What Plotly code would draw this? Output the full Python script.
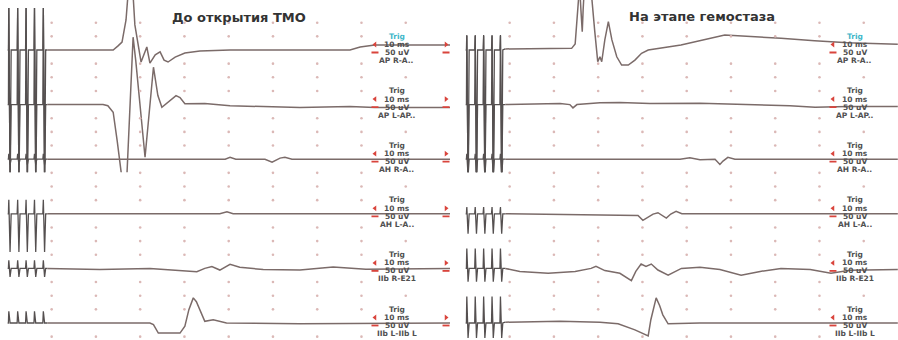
import plotly.graph_objects as go

# ---------------- data (ms, µV) ----------------
panel_titles = ["До открытия ТМО", "На этапе гемостаза"]
channel_names = ["AP R-A..", "AP L-AP..", "AH R-A..", "AH L-A..", "IIb R-E21", "IIb L-IIb L"]
trig_label = "Trig"
sweep_label = "10 ms"
gain_label = "50 uV"

# stimulation train (pulse times, ms) and artefact amplitudes per channel (µV)
left_pulse_t = [0.2, 2.2, 4.1, 6.0, 8.0]
right_pulse_t = [0.2, 2.1, 4.0, 5.9, 7.8]
left_pulse_up = [154, 354, 20, 51, 30, 43]
left_pulse_down = [500, 300, 20, 140, 31, 0]
right_pulse_up = [55, 251, 20, 25, 73, 97]
right_pulse_down = [500, 300, 60, 73, 49, 55]

# left panel: "До открытия ТМО"
left_ch1_t = [9, 23.9, 25.0, 25.9, 26.8, 27.5, 28.2, 28.8, 30.2, 31.1, 31.5, 32.2, 33.4, 34.5, 35.4, 36.3, 37.9, 40.1, 43.5, 50.3, 77.4, 79.7, 83.0, 100]
left_ch1_v = [0, 0, 15, 29, 110, 256, 256, 92, -44, 0, 11, -48, -18, -7, -37, -44, -26, -11, -4, 0, 0, 11, 18, 18]
left_ch2_t = [9, 21.6, 22.7, 23.9, 24.8, 25.8, 27.0, 27.7, 28.4, 29.0, 31.1, 33.0, 34.0, 34.9, 36.0, 38.1, 39.0, 40.1, 44.6, 50.3, 66.1, 77.4, 83.0, 100]
left_ch2_v = [0, 0, -4, -28, -132, -260, -260, 15, 247, 161, -193, 137, 33, -10, 4, 33, 26, 3, 4, -4, -11, -7, -11, -11]
left_ch3_t = [9, 49.2, 50.3, 51.6, 58.2, 59.8, 61.6, 62.7, 64.3, 100]
left_ch3_v = [0, 0, 7, 0, 0, -11, 4, 7, 0, 0]
left_ch4_t = [9, 48.0, 49.6, 51.0, 100]
left_ch4_v = [0, 0, 7, 0, 0]
left_ch5_t = [9, 20.9, 32.2, 39.0, 42.8, 44.6, 46.2, 48.0, 50.3, 52.5, 54.8, 57.8, 66.1, 73.6, 81.0, 100]
left_ch5_v = [0, -4, 0, -6, -12, 0, 7, -6, 15, 4, 0, -4, -6, 5, -3, 0]
left_ch6_t = [9, 32.2, 33.0, 34.1, 39.0, 40.1, 41.0, 42.0, 42.7, 43.5, 44.6, 46.5, 49.5, 66.1, 100]
left_ch6_v = [0, 0, -6, -37, -37, -12, 49, 92, 78, 49, 6, 12, 0, -3, 0]

# right panel: "На этапе гемостаза"
right_ch1_t = [9, 24.0, 24.8, 25.5, 25.8, 26.1, 26.4, 26.6, 26.9, 27.7, 28.5, 29.2, 29.9, 30.4, 30.8, 31.5, 32.3, 33.1, 34.2, 35.3, 36.8, 38.3, 39.8, 41.3, 48.7, 58.6, 63.9, 71.3, 78.9, 86.4, 97.7]
right_ch1_v = [4, 6, 22, 183, 238, 147, 67, 147, 238, 256, 201, 73, -43, -25, -43, 37, 104, 37, -25, -55, -55, -37, -12, 0, 18, 55, 51, 43, 34, 27, 21]
right_ch2_t = [9, 21.4, 23.6, 24.3, 25.2, 30.4, 34.9, 41.7, 53.0, 64.3, 73.3, 79.0, 86.4, 97.7]
right_ch2_v = [0, 4, 0, -12, 0, 7, 8, 4, 5, 0, -4, -10, -7, -7]
right_ch3_t = [9, 48.5, 50.7, 53.0, 56.4, 57.5, 58.2, 59.3, 60.9, 97.7]
right_ch3_v = [0, 0, 5, -2, 0, -19, -7, 7, 0, 0]
right_ch4_t = [9, 39.0, 40.1, 41.3, 42.4, 43.5, 44.4, 45.4, 46.4, 47.6, 48.9, 97.7]
right_ch4_v = [0, -6, -24, -12, -1, 4, -5, -16, -1, 9, 0, 0]
right_ch5_t = [9, 12.3, 18.7, 24.8, 28.4, 29.5, 31.5, 34.9, 37.5, 38.5, 39.7, 40.8, 42.0, 43.5, 45.8, 48.8, 53.0, 57.5, 62.3, 66.6, 71.3, 77.9, 82.6, 86.9, 97.7]
right_ch5_v = [0, -11, -18, -11, 0, 8, -8, -18, -45, -11, 16, 7, 16, -6, -25, 0, 4, -4, -25, -11, 0, -4, -18, -7, -4]
right_ch6_t = [9, 21.4, 30.4, 34.5, 38.3, 40.5, 41.3, 41.9, 43.1, 43.9, 44.6, 45.8, 53.0, 97.7]
right_ch6_v = [3, 6, 3, -3, -25, -43, -47, 12, 92, 63, 30, -3, 0, 0]

grid_times = [10, 20, 30, 40, 50, 60, 70, 80, 90]

# ---------------- layout geometry ----------------
W, H = 898, 340
PX_PER_MS = 4.426
UV_PER_PX = 50 / 13.65
CH_STEP = 200            # µV between channel baselines (4 grid steps)
TOP_BASE_PX = 50         # pixel row of first channel baseline
SPLIT_PX = 172.3         # border between upper and lower recording strips
LEFT_X0, RIGHT_X0 = 7.4, 465.4

y_upper = [-(SPLIT_PX - TOP_BASE_PX) * UV_PER_PX, TOP_BASE_PX * UV_PER_PX]
y_lower = [-(H - TOP_BASE_PX) * UV_PER_PX, y_upper[0]]

panels = [
    dict(x="x", x0=LEFT_X0, pulse_t=left_pulse_t, up=left_pulse_up, down=left_pulse_down,
         t=[left_ch1_t, left_ch2_t, left_ch3_t, left_ch4_t, left_ch5_t, left_ch6_t],
         v=[left_ch1_v, left_ch2_v, left_ch3_v, left_ch4_v, left_ch5_v, left_ch6_v]),
    dict(x="x2", x0=RIGHT_X0, pulse_t=right_pulse_t, up=right_pulse_up, down=right_pulse_down,
         t=[right_ch1_t, right_ch2_t, right_ch3_t, right_ch4_t, right_ch5_t, right_ch6_t],
         v=[right_ch1_v, right_ch2_v, right_ch3_v, right_ch4_v, right_ch5_v, right_ch6_v]),
]

TRACE_COLOR = "#7b6b69"
ART_COLOR = "#555050"
RED = "#d9443c"
TXT = "#505050"

# label rows: pixel offsets above the channel baseline
ROW_TRIG, ROW_SWEEP, ROW_GAIN, ROW_NAME = 14.0, 5.5, -2.5, -10.5

fig = go.Figure()
annotations = []

for pi, p in enumerate(panels):
    for k in range(6):
        off = -CH_STEP * k
        yax = "y" if k < 3 else "y2"
        # stimulation artefacts
        xs, ys = [0.0], [off]
        for pt in p["pulse_t"]:
            xs += [pt, pt + 0.12, pt + 0.4, pt + 0.65]
            ys += [off, off + p["up"][k], off - p["down"][k], off]
        xs.append(p["t"][k][0]); ys.append(off + p["v"][k][0])
        fig.add_trace(go.Scatter(x=xs, y=ys, mode="lines", xaxis=p["x"], yaxis=yax,
                                 line=dict(color=ART_COLOR, width=1.3), hoverinfo="skip"))
        # evoked response
        fig.add_trace(go.Scatter(x=p["t"][k], y=[off + v for v in p["v"][k]], mode="lines",
                                 xaxis=p["x"], yaxis=yax,
                                 line=dict(color=TRACE_COLOR, width=1.5), hoverinfo="skip"))

        # label block
        lx = 88.0
        rows = [(trig_label, ROW_TRIG, "#3fb6c9" if k == 0 else TXT),
                (sweep_label, ROW_SWEEP, TXT),
                (gain_label, ROW_GAIN, TXT),
                (channel_names[k], ROW_NAME, TXT)]
        for txt, dpx, col in rows:
            annotations.append(dict(x=lx, y=off + dpx * UV_PER_PX, xref=p["x"], yref=yax,
                                    text=txt, showarrow=False, xanchor="center", yanchor="middle",
                                    font=dict(family="DejaVu Sans", size=7.5, color=col, weight="bold")))
        y_arrow = off + ROW_SWEEP * UV_PER_PX
        y_dash = off + ROW_GAIN * UV_PER_PX
        fig.add_trace(go.Scatter(x=[83.05, 99.1], y=[y_arrow, y_arrow], mode="markers",
                                 xaxis=p["x"], yaxis=yax, hoverinfo="skip",
                                 marker=dict(symbol=["triangle-left", "triangle-right"], size=5, color=RED)))
        fig.add_trace(go.Scatter(x=[83.05, 99.1], y=[y_dash, y_dash], mode="markers",
                                 xaxis=p["x"], yaxis=yax, hoverinfo="skip",
                                 marker=dict(symbol="line-ew", size=5, color=RED,
                                             line=dict(color=RED, width=1.8))))

    # dotted grid
    for yax, (lo, hi) in (("y", y_upper), ("y2", y_lower)):
        gx, gy = [], []
        lvl = 100
        while lvl >= -1050:
            if lvl % CH_STEP != 0 and lo - 1 <= lvl <= hi:
                for t in grid_times:
                    if t == 90 and lvl % 100 != 0:
                        continue
                    gx.append(t); gy.append(lvl)
            lvl -= 50
        fig.add_trace(go.Scatter(x=gx, y=gy, mode="markers", xaxis=p["x"], yaxis=yax,
                                 hoverinfo="skip", cliponaxis=False,
                                 marker=dict(symbol="circle", size=2.6, color="#dbb8b6")))

# titles
annotations.append(dict(x=239 / W, y=1 - 17.5 / H, xref="paper", yref="paper", text=panel_titles[0],
                        showarrow=False, xanchor="center", yanchor="middle",
                        font=dict(family="DejaVu Sans", size=13, color="#333333", weight="bold")))
annotations.append(dict(x=702 / W, y=1 - 16.5 / H, xref="paper", yref="paper", text=panel_titles[1],
                        showarrow=False, xanchor="center", yanchor="middle",
                        font=dict(family="DejaVu Sans", size=13, color="#333333", weight="bold")))

ax_common = dict(visible=False, showgrid=False, zeroline=False, fixedrange=True)
fig.update_layout(
    width=W, height=H, margin=dict(l=0, r=0, t=0, b=0),
    paper_bgcolor="white", plot_bgcolor="rgba(0,0,0,0)",
    showlegend=False, hovermode=False,
    xaxis=dict(domain=[LEFT_X0 / W, 450 / W], range=[0, 100], **ax_common),
    xaxis2=dict(domain=[RIGHT_X0 / W, 1.0], range=[0, (W - RIGHT_X0) / PX_PER_MS], **ax_common),
    yaxis=dict(domain=[1 - SPLIT_PX / H, 1.0], range=y_upper, **ax_common),
    yaxis2=dict(domain=[0.0, 1 - SPLIT_PX / H], range=y_lower, **ax_common),
    annotations=annotations,
)

fig.write_html("out.html", config={"displayModeBar": False, "staticPlot": True},
               post_script="document.body.style.margin='0px';document.body.style.overflow='hidden';")
